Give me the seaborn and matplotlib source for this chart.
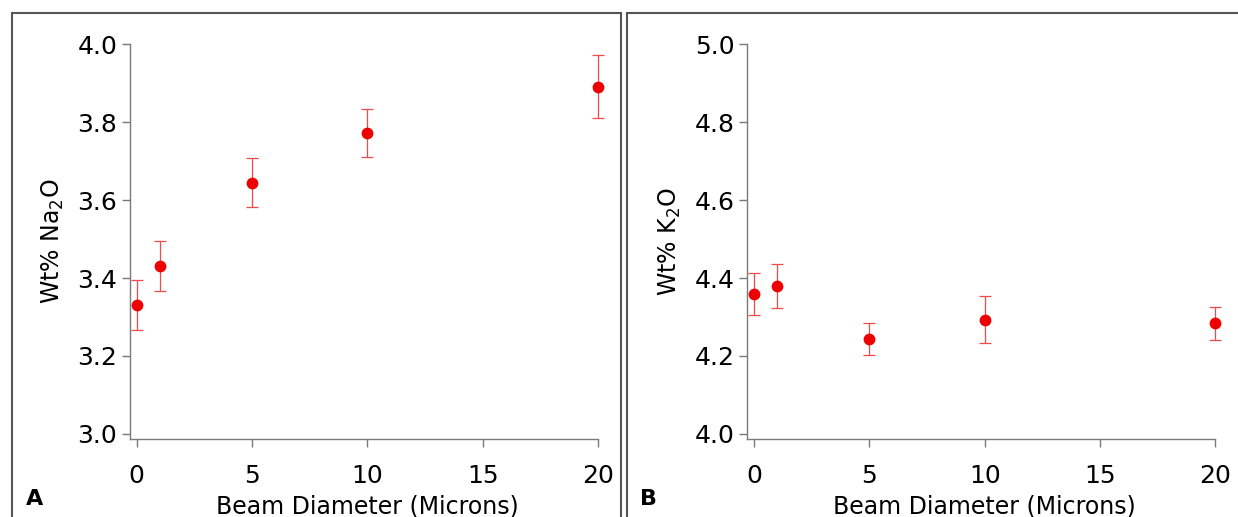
import numpy as np
import pandas as pd

import matplotlib
matplotlib.use('Agg')
import matplotlib.pyplot as plt
import seaborn as sns
from matplotlib.patches import Rectangle

# Beam diameter (microns) and measured oxide contents
beam_diameter = [0, 1, 5, 10, 20]

na2o_mean = [3.331, 3.432, 3.645, 3.772, 3.891]
na2o_err = [0.064, 0.064, 0.062, 0.062, 0.081]

k2o_mean = [4.359, 4.380, 4.244, 4.293, 4.284]
k2o_err = [0.054, 0.057, 0.041, 0.060, 0.043]

x_ticks = [0, 5, 10, 15, 20]
na2o_ticks = [3.0, 3.2, 3.4, 3.6, 3.8, 4.0]
k2o_ticks = [4.0, 4.2, 4.4, 4.6, 4.8, 5.0]

sns.set_style('ticks')
plt.rcParams['font.family'] = ['DejaVu Sans']
plt.rcParams['mathtext.default'] = 'regular'
plt.rcParams['text.color'] = 'black'
plt.rcParams['axes.labelcolor'] = 'black'

RED = '#ee0000'
AXIS_GRAY = '#7a7a7a'

fig = plt.figure(figsize=(12.38, 5.17), dpi=100)

# Panel frames
for x0, x1 in [(12, 621), (627, 1240)]:
    fig.patches.append(Rectangle((x0 / 1238, -0.05), (x1 - x0) / 1238, (517 - 13) / 517 + 0.05,
                                 transform=fig.transFigure, fill=False,
                                 edgecolor='#555555', linewidth=1.5))

panels = [
    (0.1048, na2o_mean, na2o_err, na2o_ticks, 'Wt% Na$_2$O', 'A', 35 / 1238),
    (0.6034, k2o_mean, k2o_err, k2o_ticks, 'Wt% K$_2$O', 'B', 648 / 1238),
]

for left, means, errs, yticks, ylabel, tag, tag_x in panels:
    ax = fig.add_axes([left, 0.1509, 0.384, 0.7634])
    df = pd.DataFrame({'beam': beam_diameter, 'wt': means, 'err': errs})

    ax.errorbar(df['beam'], df['wt'], yerr=df['err'], fmt='none',
                ecolor='#f04a4a', elinewidth=0.9, capsize=4.5, capthick=0.9,
                clip_on=False, zorder=2)
    sns.scatterplot(data=df, x='beam', y='wt', ax=ax, color=RED, s=72,
                    edgecolor=RED, linewidth=0, clip_on=False, zorder=3)

    lo = yticks[0] - 0.013
    ax.set_xlim(-0.3, 20.3)
    ax.set_ylim(lo, yticks[-1])
    ax.set_xticks(x_ticks)
    ax.set_yticks(yticks)
    ax.set_yticklabels([f'{t:.1f}' for t in yticks])

    sns.despine(ax=ax, top=True, right=True)
    ax.spines['bottom'].set_bounds(-0.3, 20)
    for side in ['left', 'bottom']:
        ax.spines[side].set_color(AXIS_GRAY)
        ax.spines[side].set_linewidth(1.0)

    ax.tick_params(axis='both', which='major', direction='out', length=6,
                   width=1.0, color=AXIS_GRAY, labelsize=18, labelcolor='black')
    ax.tick_params(axis='x', pad=12)
    ax.tick_params(axis='y', pad=3)

    ax.set_xlabel('Beam Diameter (Microns)', fontsize=17, labelpad=5)
    ax.set_ylabel(ylabel, fontsize=17, labelpad=8)

    fig.text(tag_x, 0.035, tag, fontsize=16, fontweight='bold', ha='center', va='center')

fig.savefig('out.png', dpi=100)
